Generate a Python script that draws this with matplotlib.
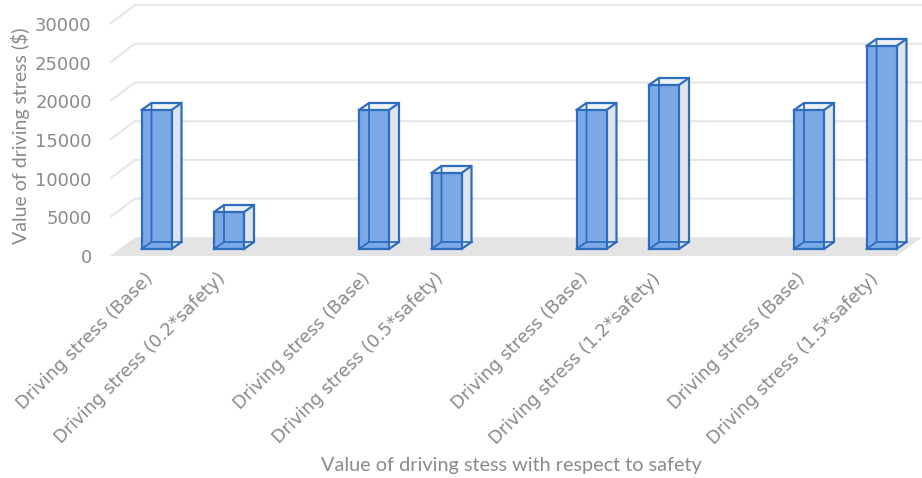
import matplotlib
matplotlib.use("Agg")
import matplotlib.pyplot as plt
from matplotlib.patches import Polygon, Rectangle
from matplotlib.transforms import ScaledTranslation

# ---- data -------------------------------------------------------------
categories = [
    "Driving stress (Base)", "Driving stress (0.2*safety)",
    "Driving stress (Base)", "Driving stress (0.5*safety)",
    "Driving stress (Base)", "Driving stress (1.2*safety)",
    "Driving stress (Base)", "Driving stress (1.5*safety)",
]
positions = [0, 1, 3, 4, 6, 7, 9, 10]
values = [17960, 4780, 17960, 9820, 17960, 21190, 17960, 26230]
yticks = [0, 5000, 10000, 15000, 20000, 25000, 30000]

# ---- figure / axes geometry -----------------------------------------
W, H, DPI = 922, 478, 100
fig = plt.figure(figsize=(W / DPI, H / DPI), dpi=DPI)

ax_left_px, ax_right_px = 100, 922
ax_top_px, ax_bot_px = 0, 262
ax = fig.add_axes([ax_left_px / W, 1 - ax_bot_px / H,
                   (ax_right_px - ax_left_px) / W, (ax_bot_px - ax_top_px) / H])

px_per_x = 72.5          # pixels per category step
px_per_y = 38.7 / 5000   # pixels per value unit
zero_px = 256            # pixel row of the front-plane zero line
first_px = 156.5         # pixel column of the first category

xmin = -(first_px - ax_left_px) / px_per_x
xmax = xmin + (ax_right_px - ax_left_px) / px_per_x
ymin = -(ax_bot_px - zero_px) / px_per_y
ymax = (zero_px - ax_top_px) / px_per_y
ax.set_xlim(xmin, xmax)
ax.set_ylim(ymin, ymax)


def ux(px):
    return px / px_per_x


def uy(px):
    return px / px_per_y


# depth of the whole scene (front plane -> back wall) and of one bar
depth_dx, depth_dy = ux(25), uy(18.7)
bar_dx, bar_dy = ux(10), uy(7)
bar_z0 = uy(7)           # front face of a bar sits this far behind the front plane
half_w = ux(15)

text_color = "#8a8a8a"
grid_color = "#e6e6e6"
edge_color = "#2e6cbf"
plt.rcParams["font.family"] = ["Lato", "DejaVu Sans"]

# ---- floor -------------------------------------------------------------
floor_left = xmin + ux(10)
floor_right_back = xmax
floor = Polygon([(floor_left, 0), (floor_right_back - depth_dx, 0),
                 (floor_right_back, depth_dy), (floor_left + depth_dx, depth_dy)],
                closed=True, facecolor="#e4e4e4", edgecolor="none", zorder=1)
ax.add_patch(floor)

# ---- back wall grid lines ---------------------------------------------
for t in yticks[1:]:
    ax.plot([floor_left, floor_left + depth_dx, xmax],
            [t, t + depth_dy, t + depth_dy],
            color=grid_color, lw=1.5, solid_capstyle="butt", zorder=0.5,
            clip_on=False)

# ---- 3-D bars -----------------------------------------------------------
for c, v in zip(positions, values):
    x0, x1 = c - half_w, c + half_w
    y0, y1 = bar_z0, bar_z0 + v
    side = Polygon([(x1, y0), (x1 + bar_dx, y0 + bar_dy),
                    (x1 + bar_dx, y1 + bar_dy), (x1, y1)],
                   closed=True, facecolor="#dfe4ec", edgecolor="none", zorder=3)
    top = Polygon([(x0, y1), (x1, y1), (x1 + bar_dx, y1 + bar_dy),
                   (x0 + bar_dx, y1 + bar_dy)],
                  closed=True, facecolor="#eef1f6", edgecolor="none", zorder=3)
    front = Rectangle((x0, y0), x1 - x0, v, facecolor="#7aa9e6",
                      edgecolor="none", zorder=4)
    for p in (side, top, front):
        ax.add_patch(p)
    # hidden edges seen through the translucent front face
    ax.plot([x0, x0 + bar_dx, x0 + bar_dx], [y0, y0 + bar_dy, y1 + bar_dy],
            color=edge_color, lw=1.3, zorder=5, solid_joinstyle="miter")
    ax.plot([x0 + bar_dx, x1 + bar_dx], [y0 + bar_dy, y0 + bar_dy],
            color=edge_color, lw=1.3, zorder=5)
    # visible edges
    ax.plot([x0, x1, x1, x0, x0], [y0, y0, y1, y1, y0],
            color=edge_color, lw=1.6, zorder=6, solid_joinstyle="miter")
    ax.plot([x0, x0 + bar_dx, x1 + bar_dx, x1], [y1, y1 + bar_dy, y1 + bar_dy, y1],
            color=edge_color, lw=1.6, zorder=6, solid_joinstyle="miter")
    ax.plot([x1 + bar_dx, x1 + bar_dx, x1], [y1 + bar_dy, y0 + bar_dy, y0],
            color=edge_color, lw=1.6, zorder=6, solid_joinstyle="miter")

# ---- axes styling ---------------------------------------------------------
for s in ax.spines.values():
    s.set_visible(False)
ax.set_facecolor("none")

ax.set_yticks(yticks, labels=[str(t) for t in yticks])
ax.tick_params(axis="y", length=0, pad=6, labelsize=13, labelcolor=text_color)
ax.set_xticks(positions, labels=categories, rotation=45, ha="right",
              va="center", rotation_mode="anchor")
ax.tick_params(axis="x", length=0, pad=10, labelsize=12.8, labelcolor=text_color)
shift = ScaledTranslation(-6 / DPI, 0, fig.dpi_scale_trans)
for lab in ax.get_xticklabels():
    lab.set_transform(lab.get_transform() + shift)

fig.text(21 / W, 1 - 136 / H, "Value of driving stress ($)", rotation=90,
         ha="center", va="center", fontsize=14, color=text_color)
fig.text(511 / W, 1 - 466 / H, "Value of driving stess with respect to safety",
         ha="center", va="center", fontsize=14.3, color=text_color)

fig.savefig("out.png", dpi=DPI)
